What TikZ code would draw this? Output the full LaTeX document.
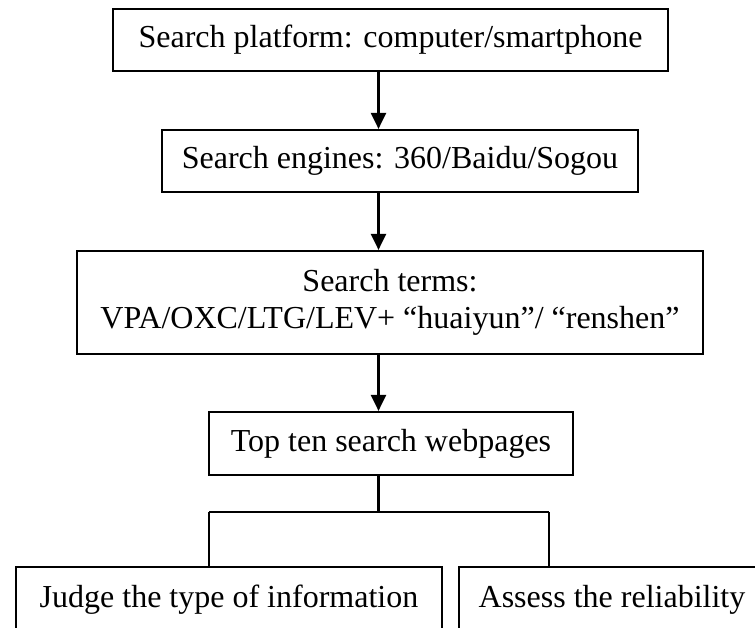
\documentclass[tikz,border=0pt]{standalone}
\usepackage{fontspec}
\setmainfont{Liberation Serif}
\usetikzlibrary{
    arrows.meta,
    positioning
}
\tikzset{
    box/.style={draw, line width=2.2pt, inner sep=0pt, align=center,
        font=\fontsize{32}{37}\selectfont},
    flow/.style={line width=2.2pt, -{Triangle[width=15pt,length=16pt]}},
    link/.style={line width=2.2pt}
}

\begin{document}
\begin{tikzpicture}[x=1pt, y=-1pt]
                        \useasboundingbox (0, 0) rectangle (755, 628);
                        \clip (0, 0) rectangle (755, 628);
                        \node[box, minimum width=555pt, minimum height=62pt] (platform) at (390.5, 40) {Search platform: computer/smartphone};
                        \node[box, minimum width=476pt, minimum height=62pt] (engines) at (400, 161) {Search engines: 360/Baidu/Sogou};
                        \node[box, minimum width=626pt, minimum height=103pt] (terms) at (390, 302.5) {Search terms:\\VPA/OXC/LTG/LEV+ “huaiyun”/ “renshen”};
                        \node[box, minimum width=364pt, minimum height=63pt] (topten) at (391, 443.5) {Top ten search webpages};
                        \node[box, minimum width=426pt, minimum height=66pt] (judge) at (229, 600) {Judge the type of information};
                        \node[box, minimum width=306pt, minimum height=66pt] (assess) at (612, 600) {Assess the reliability};
                        % trunk and branch points
                        \coordinate (axis) at (378.5, 0);
                        \coordinate (split) at (378.5, 512);
                        \coordinate (jdrop) at (209, 512);
                        \coordinate (adrop) at (549, 512);
                        \draw[flow] (platform.south -| axis) -- (engines.north -| axis);
                        \draw[flow] (engines.south -| axis) -- (terms.north -| axis);
                        \draw[flow] (terms.south -| axis) -- (topten.north -| axis);
                        \draw[link]
                        (topten.south -| split) -- (split)
                        (jdrop) -- (adrop)
                        (jdrop) -- (judge.north -| jdrop)
                        (adrop) -- (assess.north -| adrop);
                    \end{tikzpicture}
\end{document}
